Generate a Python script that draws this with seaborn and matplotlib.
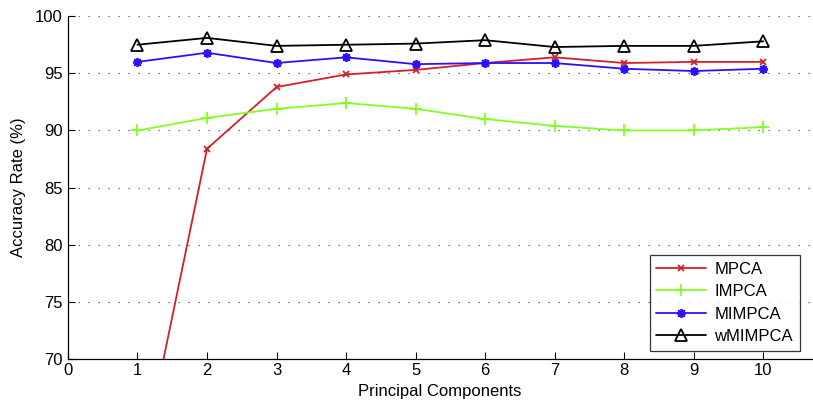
import seaborn as sns
import numpy as np
import pandas as pd
import matplotlib
matplotlib.use('Agg')
import matplotlib.pyplot as plt

components = [1, 2, 3, 4, 5, 6, 7, 8, 9, 10]
mpca = [59.0, 88.4, 93.8, 94.9, 95.3, 95.9, 96.4, 95.9, 96.0, 96.0]
impca = [90.0, 91.1, 91.9, 92.4, 91.9, 91.0, 90.4, 90.0, 90.0, 90.3]
mimpca = [96.0, 96.8, 95.9, 96.4, 95.8, 95.9, 95.9, 95.4, 95.2, 95.4]
wmimpca = [97.5, 98.1, 97.4, 97.5, 97.6, 97.9, 97.3, 97.4, 97.4, 97.8]

sns.set_style('white')
plt.rcParams['font.family'] = ['Liberation Sans', 'DejaVu Sans']
plt.rcParams['text.color'] = 'black'
plt.rcParams['axes.labelcolor'] = 'black'
plt.rcParams['xtick.color'] = 'black'
plt.rcParams['ytick.color'] = 'black'

fig = plt.figure(figsize=(8.13, 4.04), dpi=100)
ax = fig.add_axes([0.0836, 0.111, 0.915, 0.849])

series = [
    ('MPCA', mpca, '#d0202a', 'x', 4, 'full'),
    ('IMPCA', impca, '#80ff20', '+', 8, 'full'),
    ('MIMPCA', mimpca, '#2a10ff', (8, 2, 0), 6.5, 'full'),
    ('wMIMPCA', wmimpca, 'black', '^', 9, 'none'),
]
for name, vals, col, mk, ms, fill in series:
    df = pd.DataFrame({'pc': components, 'acc': vals})
    sns.lineplot(data=df, x='pc', y='acc', ax=ax, color=col, marker=mk,
                 markersize=ms, fillstyle=fill, markeredgecolor=col,
                 markeredgewidth=1.3, linewidth=1.3, label=name)

ax.set_xlim(0, 10.7)
ax.set_ylim(70, 100)
ax.set_xticks(range(0, 11))
ax.set_yticks(range(70, 101, 5))
ax.set_xlabel('Principal Components', fontsize=12, labelpad=4)
ax.set_ylabel('Accuracy Rate (%)', fontsize=12, labelpad=6)
ax.tick_params(bottom=True, left=True, direction='in', length=5,
               labelsize=12, width=0.8, pad=4)
ax.tick_params(axis='x', pad=3)
for s in ['top', 'right']:
    ax.spines[s].set_visible(False)
for s in ['left', 'bottom']:
    ax.spines[s].set_color('black')
    ax.spines[s].set_linewidth(0.9)
for yv in range(75, 101, 5):
    ax.axhline(yv, color='#555555', linestyle=(0, (1, 7)), linewidth=0.9, zorder=0)

leg = ax.legend(loc='lower right', fontsize=12, frameon=True, fancybox=False,
                edgecolor='black', borderpad=0.4, handlelength=3.0,
                labelspacing=0.45, borderaxespad=0.5, handletextpad=0.5,
                bbox_to_anchor=(0.995, 0.0))
leg.get_frame().set_linewidth(0.9)

fig.savefig('out.png', dpi=100)
